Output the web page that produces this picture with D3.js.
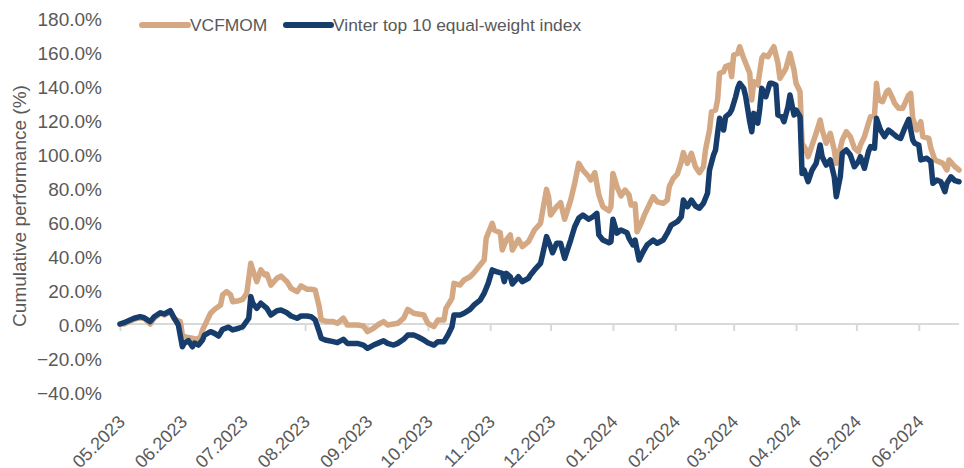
<!DOCTYPE html>
<html><head><meta charset="utf-8">
<script src="https://cdn.jsdelivr.net/npm/d3@7"></script>
<style>body{margin:0;background:#fff;overflow:hidden}</style>
</head><body><svg id="chart" width="964" height="468"></svg>
<script>
const seriesNames = ["VCFMOM", "Vinter top 10 equal-weight index"];
const seriesColors = ["#d4a883", "#163d6c"];

const vcfmomDates = ["2023-05-01","2023-05-03","2023-05-06","2023-05-08","2023-05-11","2023-05-13","2023-05-16","2023-05-18","2023-05-21","2023-05-23",
"2023-05-26","2023-05-28","2023-05-31","2023-06-01","2023-06-03","2023-06-06","2023-06-08","2023-06-10","2023-06-11","2023-06-13",
"2023-06-15","2023-06-17","2023-06-20","2023-06-21","2023-06-23","2023-06-25","2023-06-26","2023-06-29","2023-07-01","2023-07-03",
"2023-07-05","2023-07-06","2023-07-08","2023-07-10","2023-07-12","2023-07-13","2023-07-15","2023-07-18","2023-07-20","2023-07-23",
"2023-07-25","2023-07-28","2023-07-30","2023-08-02","2023-08-04","2023-08-06","2023-08-08","2023-08-09","2023-08-12","2023-08-15",
"2023-08-17","2023-08-20","2023-08-22","2023-08-25","2023-08-27","2023-08-30","2023-09-01","2023-09-04","2023-09-06","2023-09-09",
"2023-09-11","2023-09-14","2023-09-16","2023-09-19","2023-09-21","2023-09-24","2023-09-26","2023-09-29","2023-10-01","2023-10-04",
"2023-10-06","2023-10-09","2023-10-10","2023-10-13","2023-10-14","2023-10-17","2023-10-19","2023-10-22","2023-10-24","2023-10-27",
"2023-10-29","2023-10-30","2023-10-31","2023-11-02","2023-11-03","2023-11-06","2023-11-07","2023-11-09","2023-11-11","2023-11-12",
"2023-11-15","2023-11-17","2023-11-20","2023-11-23","2023-11-26","2023-11-27","2023-11-29","2023-11-30","2023-12-01","2023-12-04",
"2023-12-06","2023-12-08","2023-12-11","2023-12-13","2023-12-15","2023-12-17","2023-12-20","2023-12-21","2023-12-23","2023-12-25",
"2023-12-27","2023-12-30","2023-12-31","2024-01-01","2024-01-03","2024-01-05","2024-01-07","2024-01-09","2024-01-10","2024-01-12",
"2024-01-13","2024-01-15","2024-01-17","2024-01-19","2024-01-21","2024-01-23","2024-01-26","2024-01-28","2024-01-29","2024-01-31",
"2024-02-02","2024-02-04","2024-02-05","2024-02-07","2024-02-09","2024-02-11","2024-02-13","2024-02-15","2024-02-16","2024-02-18",
"2024-02-19","2024-02-21","2024-02-22","2024-02-23","2024-02-25","2024-02-26","2024-02-28","2024-02-29","2024-03-01","2024-03-03",
"2024-03-04","2024-03-06","2024-03-07","2024-03-09","2024-03-10","2024-03-11","2024-03-13","2024-03-15","2024-03-16","2024-03-18",
"2024-03-20","2024-03-21","2024-03-23","2024-03-24","2024-03-26","2024-03-27","2024-03-29","2024-03-31","2024-04-01","2024-04-03",
"2024-04-04","2024-04-06","2024-04-07","2024-04-09","2024-04-11","2024-04-13","2024-04-14","2024-04-16","2024-04-18","2024-04-20",
"2024-04-21","2024-04-23","2024-04-24","2024-04-26","2024-04-28","2024-04-30","2024-05-02","2024-05-03","2024-05-05","2024-05-07",
"2024-05-08","2024-05-10","2024-05-11","2024-05-12","2024-05-14","2024-05-16","2024-05-17","2024-05-19","2024-05-20","2024-05-22",
"2024-05-24","2024-05-27","2024-05-28","2024-05-29","2024-05-31","2024-06-02","2024-06-03","2024-06-06","2024-06-07","2024-06-09",
"2024-06-11","2024-06-13","2024-06-15","2024-06-16","2024-06-19","2024-06-21"];
const vcfmomValues = [0,0,1.6,2.8,3.7,3.4,0,3.4,6.3,5.3,
7.2,2.8,1.4,-6.5,-7.8,-8.4,-9,-7.8,-3.5,1.4,
6.3,8.6,11.2,17.1,19,17.1,13.1,13.7,14.5,18.1,
35.7,31.8,24.9,31.8,28.8,29.4,22.9,26.9,28.2,24.9,
21,19,22.4,20.4,20.4,20,10.2,2.4,1.4,1.4,
0.4,3.4,-0.6,-0.6,-0.6,-1.2,-4.5,-2.5,-0.6,1.4,
-0.6,0,0.4,3.4,8.6,6.3,5.9,5.3,0.4,-1.6,
2.4,2.4,9.2,15.1,23.9,22.9,25.9,27.8,30.2,34.7,
37.6,50.4,53.4,59.2,55.3,53.7,43.5,49.4,52.4,43.5,
49.8,45.5,48.4,55.3,59.2,66.1,79.2,74.9,64.1,69,
71.4,61.6,72.9,82.8,94.5,90.6,86.6,84.7,89,75.9,
69,66.6,69,88.6,80.8,75.3,78.8,75.9,70,70.6,
54.3,59.2,65.1,70,74.9,71.9,71,72.9,80.8,85.7,
88.2,95.5,100.8,94.5,100.4,92.5,89,92.5,102.4,114.1,
124.9,125.9,131.8,147.5,148.4,151.4,152.4,145.5,158.2,159.2,
163.1,156.3,153.4,147.5,131.8,142.5,140.6,156.3,158.2,157.2,
161.2,163.1,153.4,144.5,148.4,150.4,159.2,149.4,141.6,136.6,
106.3,102.4,98.4,105.3,112.2,120,114.1,106.3,112.2,102.4,
94.5,103.4,108.2,113.1,110.2,103.4,101.4,105.3,110.2,118.1,
121.9,122.9,141.6,131.8,130.8,136.6,137.6,132.8,129.8,126.9,
126.9,134.7,135.7,121,114.1,119,110.2,109.2,103.4,96.5,
95.5,94.5,90.6,96.5,92.5,90.6];

const vinterDates = ["2023-05-01","2023-05-03","2023-05-06","2023-05-08","2023-05-11","2023-05-13","2023-05-16","2023-05-18","2023-05-21","2023-05-23",
"2023-05-26","2023-05-28","2023-05-30","2023-06-01","2023-06-02","2023-06-04","2023-06-06","2023-06-07","2023-06-09","2023-06-11",
"2023-06-12","2023-06-15","2023-06-17","2023-06-19","2023-06-21","2023-06-24","2023-06-26","2023-06-29","2023-07-01","2023-07-04",
"2023-07-05","2023-07-06","2023-07-08","2023-07-10","2023-07-13","2023-07-15","2023-07-18","2023-07-20","2023-07-23","2023-07-25",
"2023-07-28","2023-07-30","2023-08-02","2023-08-04","2023-08-06","2023-08-08","2023-08-09","2023-08-11","2023-08-15","2023-08-17",
"2023-08-20","2023-08-22","2023-08-25","2023-08-27","2023-08-30","2023-09-01","2023-09-04","2023-09-06","2023-09-09","2023-09-11",
"2023-09-14","2023-09-16","2023-09-19","2023-09-21","2023-09-24","2023-09-26","2023-09-29","2023-10-01","2023-10-04","2023-10-06",
"2023-10-09","2023-10-11","2023-10-13","2023-10-14","2023-10-17","2023-10-19","2023-10-22","2023-10-24","2023-10-27","2023-10-29",
"2023-10-31","2023-11-02","2023-11-04","2023-11-07","2023-11-08","2023-11-09","2023-11-11","2023-11-12","2023-11-15","2023-11-17",
"2023-11-20","2023-11-21","2023-11-23","2023-11-26","2023-11-27","2023-11-29","2023-12-01","2023-12-02","2023-12-04","2023-12-06",
"2023-12-08","2023-12-11","2023-12-13","2023-12-15","2023-12-17","2023-12-20","2023-12-22","2023-12-24","2023-12-25","2023-12-27",
"2023-12-30","2023-12-31","2024-01-01","2024-01-03","2024-01-05","2024-01-08","2024-01-09","2024-01-11","2024-01-12","2024-01-14",
"2024-01-16","2024-01-18","2024-01-21","2024-01-23","2024-01-26","2024-01-28","2024-01-30","2024-02-02","2024-02-04","2024-02-05",
"2024-02-07","2024-02-09","2024-02-11","2024-02-13","2024-02-15","2024-02-17","2024-02-18","2024-02-20","2024-02-21","2024-02-22",
"2024-02-23","2024-02-25","2024-02-26","2024-02-28","2024-02-29","2024-03-02","2024-03-03","2024-03-04","2024-03-06","2024-03-07",
"2024-03-09","2024-03-10","2024-03-11","2024-03-13","2024-03-14","2024-03-15","2024-03-17","2024-03-19","2024-03-20","2024-03-22",
"2024-03-23","2024-03-25","2024-03-26","2024-03-28","2024-03-29","2024-03-31","2024-04-01","2024-04-03","2024-04-04","2024-04-05",
"2024-04-07","2024-04-09","2024-04-11","2024-04-13","2024-04-14","2024-04-16","2024-04-18","2024-04-20","2024-04-21","2024-04-23",
"2024-04-24","2024-04-26","2024-04-28","2024-04-30","2024-05-02","2024-05-03","2024-05-05","2024-05-07","2024-05-08","2024-05-10",
"2024-05-11","2024-05-13","2024-05-15","2024-05-17","2024-05-19","2024-05-21","2024-05-23","2024-05-25","2024-05-27","2024-05-29",
"2024-05-30","2024-06-01","2024-06-02","2024-06-05","2024-06-07","2024-06-08","2024-06-10","2024-06-12","2024-06-14","2024-06-15",
"2024-06-17","2024-06-19","2024-06-21"];
const vinterValues = [0,0.8,2.4,3.4,4.3,3.7,1.4,4.3,6.6,5.9,
7.8,3.4,-0.6,-13.4,-11.2,-9.8,-13.4,-11.2,-12.4,-9.4,
-6.5,-4.5,-5.5,-7.1,-3.1,-1.9,-3.5,-2.5,-1.6,3.4,
16.1,12.2,9.2,12.2,9.2,5.3,7.8,8.2,6.6,4.7,
3.4,4.7,4.7,4.3,2.4,-4.5,-8.4,-9.4,-10.4,-11,
-9,-11.4,-11.4,-11.4,-12.4,-14.3,-12.4,-11.4,-9.8,-11.4,
-12.4,-11.4,-9,-6.5,-6.5,-7.5,-9.4,-11,-12.4,-10.4,
-10.4,-6.5,-1.6,5.3,5.3,6.3,8.6,11.2,14.1,18.1,
23.9,31.8,30.8,29.8,24.9,29.8,27.8,23.5,27.8,24.9,
26.9,28.8,31.8,35.7,40.6,51.4,45.5,41.9,47.5,47.5,
38.6,49.4,57.2,62.2,64.1,61.6,63.1,65.1,52.4,49.4,
47.8,48.4,61.6,53.4,55.3,53.7,50.4,46.5,49.4,37.6,
42.5,46.5,49.4,47.5,49.4,53.4,58.2,60.2,63.1,72.9,
69,72.9,69.4,68.1,71,76.9,90.6,99.4,102.4,112.2,
121,114.1,121.9,123.9,125.9,133.7,138.6,141.6,138.6,133.7,
119,113.1,123.9,118.1,126.9,138.6,133.7,141.6,141.6,140.6,
122.9,121.9,119,127.8,134.7,122.9,125.9,121.9,88.6,90.6,
83.7,90.6,94.5,105.3,98.4,93.5,96.5,86.6,74.9,86.6,
100.4,102.4,99.4,92.5,95.5,98.4,91.6,101.4,104.3,103.4,
121,114.1,110.2,114.1,112.2,110.2,109.2,115.1,120.4,108.2,
106.3,105.3,96.5,97.5,95.5,82.8,84.7,83.7,77.8,82.8,
86.6,84.3,83.7];

const yTickValues = [-40, -20, 0, 20, 40, 60, 80, 100, 120, 140, 160, 180];
const xTickMonths = ["2023-05-01","2023-06-01","2023-07-01","2023-08-01","2023-09-01","2023-10-01","2023-11-01","2023-12-01","2024-01-01","2024-02-01","2024-03-01","2024-04-01","2024-05-01","2024-06-01"];
const yAxisTitle = "Cumulative performance (%)";

const parse = d3.timeParse("%Y-%m-%d");
const FONT = "'Liberation Sans', Arial, sans-serif";
const TEXT = "#595959";

const svg = d3.select("#chart");
const x = d3.scaleTime()
  .domain([parse(vcfmomDates[0]), parse(vcfmomDates[vcfmomDates.length - 1])])
  .range([120, 959]);
const y = d3.scaleLinear().domain([-40, 180]).range([392, 18]);

// y tick labels
const yAxis = d3.axisLeft(y).tickValues(yTickValues).tickSize(0).tickPadding(0)
  .tickFormat(d => d3.format(".1f")(d) + "%");
svg.append("g").attr("transform", "translate(102,1)").call(yAxis)
  .call(g => g.select(".domain").remove())
  .call(g => g.selectAll("text").attr("fill", TEXT).style("font-family", FONT).style("font-size", "19px"));

// y axis title
svg.append("text").attr("transform", "translate(26,206) rotate(-90)")
  .attr("text-anchor", "middle").attr("fill", TEXT)
  .style("font-family", FONT).style("font-size", "19px").text(yAxisTitle);

// zero axis with ticks
const xAxis = d3.axisBottom(x).tickValues(xTickMonths.map(parse)).tickSize(7).tickFormat("");
svg.append("g").attr("transform", `translate(0,${y(0)})`).call(xAxis)
  .call(g => g.select(".domain").attr("stroke", "#d9d9d9").attr("stroke-width", 2).attr("d", `M120,0H959`))
  .call(g => g.selectAll(".tick line").attr("stroke", "#d9d9d9").attr("stroke-width", 2));

// x tick labels at bottom
const fmt = d3.timeFormat("%m.%Y");
svg.append("g").selectAll("text").data(xTickMonths.map(parse)).join("text")
  .attr("transform", d => `translate(${x(d) + 6},423) rotate(-45)`)
  .attr("text-anchor", "end").attr("fill", TEXT)
  .style("font-family", FONT).style("font-size", "18px").text(d => fmt(d));

// lines
const line = d3.line().x(d => x(d[0])).y(d => y(d[1])).curve(d3.curveLinear);
const s1 = vcfmomDates.map((d, i) => [parse(d), vcfmomValues[i]]);
const s2 = vinterDates.map((d, i) => [parse(d), vinterValues[i]]);
[s1, s2].forEach((s, i) => {
  svg.append("path").datum(s).attr("d", line).attr("fill", "none")
    .attr("stroke", seriesColors[i]).attr("stroke-width", 5.5)
    .attr("stroke-linejoin", "round").attr("stroke-linecap", "round");
});

// legend
const legendItems = [{x0: 142, x1: 188, tx: 190}, {x0: 286, x1: 331, tx: 333}];
legendItems.forEach((p, i) => {
  svg.append("line").attr("x1", p.x0).attr("x2", p.x1).attr("y1", 25).attr("y2", 25)
    .attr("stroke", seriesColors[i]).attr("stroke-width", 6).attr("stroke-linecap", "round");
  svg.append("text").attr("x", p.tx).attr("y", 25).attr("dy", "0.35em").attr("fill", TEXT)
    .style("font-family", FONT).style("font-size", "17.4px").text(seriesNames[i]);
});
</script></body></html>
